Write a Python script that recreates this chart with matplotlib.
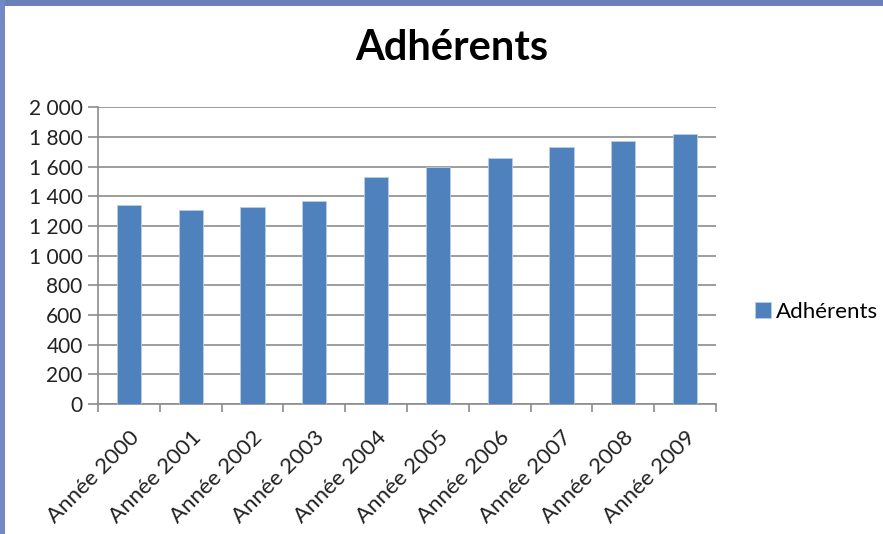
import matplotlib.pyplot as plt
from matplotlib.patches import Rectangle
import numpy as np

plt.rcParams['font.family'] = ['Lato', 'DejaVu Sans']

annees = ["Année 2000", "Année 2001", "Année 2002", "Année 2003", "Année 2004",
          "Année 2005", "Année 2006", "Année 2007", "Année 2008", "Année 2009"]
adherents = [1340, 1305, 1330, 1368, 1530, 1595, 1655, 1730, 1770, 1820]
yticks = [0, 200, 400, 600, 800, 1000, 1200, 1400, 1600, 1800, 2000]

fig = plt.figure(figsize=(8.83, 5.34), dpi=100)
fig.patch.set_facecolor('white')

# slide background bands at the top and left edges
fig.patches.append(Rectangle((0, 1 - 6 / 534), 1, 6 / 534, transform=fig.transFigure,
                             facecolor='#6b80b8', edgecolor='none', zorder=0))
fig.patches.append(Rectangle((0, 0), 5 / 883, 1, transform=fig.transFigure,
                             facecolor='#7389c6', edgecolor='none', zorder=0))

ax = fig.add_axes([98 / 883, 1 - 404 / 534, (716 - 98) / 883, (404 - 107.3) / 534])
x = np.arange(len(annees))
ax.bar(x, adherents, width=0.39, color='#4f81bd', edgecolor='#b9cde5',
       linewidth=0.6, label='Adhérents', zorder=3)

ax.set_ylim(0, 2000)
ax.set_xlim(-0.5, len(annees) - 0.5)
ax.set_yticks(yticks)
ax.set_yticklabels([f"{v:,}".replace(",", " ") for v in yticks])
ax.yaxis.grid(True, color='#8c8c8c', linewidth=1.2, zorder=0)

ax.set_xticks(np.arange(len(annees) + 1) - 0.5)
ax.set_xticklabels([])
ax.set_xticks(x, minor=True)
ax.set_xticklabels(annees, minor=True, rotation=45, ha='right',
                   rotation_mode='anchor', fontsize=16, color='#222222')
ax.tick_params(axis='x', which='major', length=6, width=1.2, color='#8c8c8c')
ax.tick_params(axis='x', which='minor', length=0, pad=17)
ax.tick_params(axis='y', length=7, width=1.2, color='#8c8c8c',
               labelsize=15, labelcolor='#222222', pad=4)

for s in ['top', 'right']:
    ax.spines[s].set_visible(False)
for s in ['left', 'bottom']:
    ax.spines[s].set_color('#8c8c8c')
    ax.spines[s].set_linewidth(1.2)

fig.text(452 / 883, 1 - 48 / 534, "Adhérents", ha='center', va='center',
         fontsize=30, fontweight='bold', color='black')

fig.legend(loc='center left', bbox_to_anchor=(755 / 883, 1 - 312 / 534),
           frameon=False, fontsize=16, handlelength=0.7, handleheight=0.7,
           handletextpad=0.25, borderaxespad=0, borderpad=0)

fig.savefig('out.png', dpi=100)
